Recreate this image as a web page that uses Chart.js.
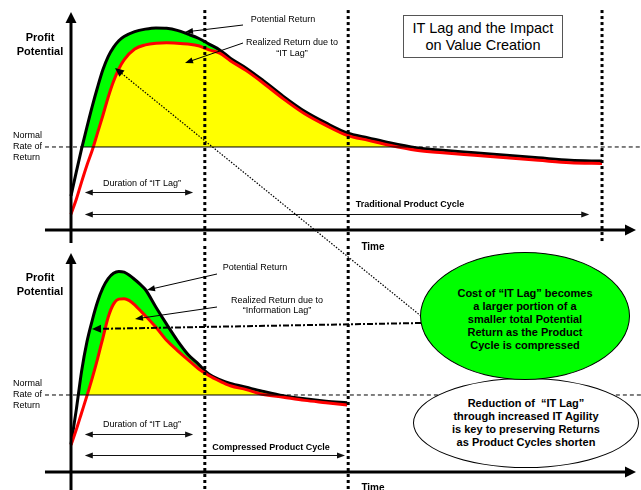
<!DOCTYPE html>
<html lang="en">
<head>
<meta charset="utf-8">
<title>IT Lag and the Impact on Value Creation</title>
<script src="https://cdn.jsdelivr.net/npm/chart.js@4.4.1/dist/chart.umd.min.js"></script>
<style>
  html, body { margin: 0; padding: 0; background: #fff; }
  #wrap { position: relative; width: 641px; height: 490px; overflow: hidden;
          font-family: "Liberation Sans", Arial, Helvetica, sans-serif; color: #000; }
  #chart { position: absolute; left: 0; top: 0; }
  .t { position: absolute; white-space: nowrap; text-align: center; transform: translate(-50%, -50%); }
  .axis-title { font-size: 11px; font-weight: bold; line-height: 14px; }
  .rate { font-size: 9px; line-height: 11px; text-align: left; transform: translate(0, -50%); }
  .note { font-size: 9px; line-height: 10.5px; }
  .span { font-size: 9px; font-weight: bold; }
  .time { font-size: 10px; font-weight: bold; }
  .box { position: absolute; left: 403px; top: 15px; width: 160px; height: 43px; box-sizing: border-box;
         border: 1px solid #555; font-size: 14.5px; line-height: 17px; background: #fff;
         display: flex; align-items: center; justify-content: center; text-align: center; }
  .ell { position: absolute; border: 1px solid #000; border-radius: 50%; box-sizing: border-box;
         display: flex; align-items: center; justify-content: center; text-align: center;
         font-size: 11px; font-weight: bold; line-height: 13px; white-space: nowrap; }
  .ell.white { left: 413px; top: 378px; width: 226px; height: 90px; background: #fff; }
  .ell.green { left: 420px; top: 252px; width: 210px; height: 128px; background: #00ff00; padding-top: 6px; }
</style>
</head>
<body>
<div id="wrap">
  <canvas id="chart" width="641" height="490"></canvas>

  <!-- upper panel: traditional product cycle -->
  <div class="t axis-title" style="left:40px;top:44px">Profit<br>Potential</div>
  <div class="t rate" style="left:13px;top:146px">Normal<br>Rate of<br>Return</div>
  <div class="t note" style="left:283px;top:19px">Potential Return</div>
  <div class="t note" style="left:292px;top:47px">Realized Return due to<br>“IT Lag”</div>
  <div class="t note" style="left:142px;top:183px">Duration of “IT Lag”</div>
  <div class="t span" style="left:410px;top:204px">Traditional Product Cycle</div>
  <div class="t time" style="left:373px;top:246px">Time</div>
  <div class="box">IT Lag and the Impact<br>on Value Creation</div>

  <!-- lower panel: compressed product cycle -->
  <div class="t axis-title" style="left:40px;top:284px">Profit<br>Potential</div>
  <div class="t rate" style="left:13px;top:394px">Normal<br>Rate of<br>Return</div>
  <div class="t note" style="left:255px;top:267px">Potential Return</div>
  <div class="t note" style="left:277px;top:304.5px">Realized Return due to<br>“Information Lag”</div>
  <div class="t note" style="left:142px;top:424px">Duration of “IT Lag”</div>
  <div class="t span" style="left:271px;top:447px">Compressed Product Cycle</div>
  <div class="t time" style="left:373px;top:487px">Time</div>

  <div class="ell white">Reduction of&nbsp; “IT Lag”<br>through increased IT Agility<br>is key to preserving Returns<br>as Product Cycles shorten</div>
  <div class="ell green">Cost of “IT Lag” becomes<br>a larger portion of a<br>smaller total Potential<br>Return as the Product<br>Cycle is compressed</div>
</div>

<script>
// Time is measured in percent of the traditional product cycle.
const timeTraditional = [0, 1, 2, 3, 4, 5, 6, 7, 8, 9, 10, 12, 14, 16, 18, 20, 22, 24, 26, 28, 30,
                         33, 36, 40, 44, 48, 52, 56, 60, 65, 70, 76, 82, 88, 94, 100];
const potentialTraditional = [4.1, 7.0, 9.8, 12.4, 14.9, 17.2, 19.3, 20.9, 22.0, 22.8, 23.3,
                              23.9, 24.2, 24.35, 24.3, 24.05, 23.6, 23.1, 22.4, 21.7, 20.7,
                              19.5, 18.1, 16.1, 14.3, 12.9, 11.7, 11.1, 10.5,
                              9.9, 9.6, 9.3, 9.0, 8.7, 8.4, 8.3];
const realizedTraditional = [1.9, 3.7, 5.8, 7.8, 9.6, 11.7, 13.8, 16.0, 17.9, 19.4, 20.5,
                             21.8, 22.3, 22.5, 22.55, 22.5, 22.4, 22.2, 21.7, 21.3, 20.4,
                             19.2, 17.8, 15.8, 14.0, 12.6, 11.4, 10.8, 10.2,
                             9.6, 9.3, 9.0, 8.7, 8.4, 8.1, 8.0];

const timeCompressed = [0, 1, 2, 3, 4, 5, 6, 7, 8, 9, 10, 11, 12, 13, 14,
                        16, 18, 20, 22, 24, 26, 28, 30, 33, 36, 40, 44, 48, 52];
const potentialCompressed = [3.6, 8.1, 13.1, 16.9, 19.7, 22.1, 23.9, 25.1, 25.8, 26.05, 25.95, 25.55, 25.0, 24.4, 23.7,
                             21.4, 19.2, 17.1, 15.3, 14.0, 12.7, 12.0, 11.5, 11.0, 10.5, 9.9, 9.5, 9.2, 9.0];
const realizedCompressed = [3.5, 5.5, 7.7, 9.9, 12.2, 14.7, 17.4, 20.1, 21.8, 22.45, 22.5, 22.25, 21.7, 21.0, 20.3,
                            18.8, 17.1, 15.8, 14.6, 13.4, 12.5, 11.8, 11.2, 10.7, 10.1, 9.7, 9.3, 9.0, 8.7];

const normalRate = 10;
// end of the IT lag, end of the compressed cycle, end of the traditional cycle
const cycleMarksTop = [25.2, 52.2, 100];
const cycleMarksBottom = [25.2, 52.2];

// ---------- helpers ----------
const pts = (xs, ys) => xs.map((x, i) => ({ x, y: ys[i] }));

function crossings(xs, ys, level) {
  let first = null, last = null;
  for (let i = 1; i < ys.length; i++) {
    const a = ys[i - 1] - level, b = ys[i] - level;
    if ((a < 0) !== (b < 0)) {
      const x = xs[i - 1] + (xs[i] - xs[i - 1]) * (a / (a - b));
      if (first === null) first = x;
      last = x;
    }
  }
  return [first, last];
}

function curve(xs, ys, axis, color, fillColor) {
  return {
    data: pts(xs, ys),
    yAxisID: axis,
    borderColor: color,
    borderWidth: 3,
    cubicInterpolationMode: 'monotone',
    pointRadius: 0,
    fill: { target: { value: normalRate }, above: fillColor, below: 'rgba(0,0,0,0)' }
  };
}

function rateLine(xs, ys, axis) {
  const [a, b] = crossings(xs, ys, normalRate);
  return {
    data: [{ x: -4.9, y: normalRate }, { x: a, y: normalRate }, { x: b, y: normalRate }, { x: 107.34, y: normalRate }],
    yAxisID: axis,
    borderColor: '#000',
    borderWidth: 1,
    borderDash: [4, 3],
    segment: { borderDash: c => (c.p0DataIndex === 1 ? [] : [4, 3]) },
    pointRadius: 0,
    fill: false
  };
}

function cycleMark(t, axis, span) {
  return {
    data: [{ x: t, y: span[1] }, { x: t, y: span[0] }],
    yAxisID: axis,
    borderColor: '#000',
    borderWidth: 3,
    borderDash: [3, 3],
    borderCapStyle: 'butt',
    pointRadius: 0,
    fill: false
  };
}

function head(ctx, x1, y1, x2, y2, len, width) {
  const a = Math.atan2(y2 - y1, x2 - x1);
  const c = Math.cos(a), s = Math.sin(a);
  ctx.beginPath();
  ctx.moveTo(x2, y2);
  ctx.lineTo(x2 - len * c + (width / 2) * s, y2 - len * s - (width / 2) * c);
  ctx.lineTo(x2 - len * c - (width / 2) * s, y2 - len * s + (width / 2) * c);
  ctx.closePath();
  ctx.fill();
}

// line from (x1,y1) to (x2,y2) with a head at the end, optionally at both ends
function arrow(ctx, x1, y1, x2, y2, o) {
  const len = o.len, w = o.width;
  const d = Math.hypot(x2 - x1, y2 - y1);
  const ux = (x2 - x1) / d, uy = (y2 - y1) / d;
  const sx = o.both ? x1 + ux * (len - 1) : x1, sy = o.both ? y1 + uy * (len - 1) : y1;
  ctx.save();
  ctx.lineWidth = o.lineWidth;
  ctx.strokeStyle = o.color || '#000';
  ctx.fillStyle = o.color || '#000';
  ctx.setLineDash(o.dash || []);
  ctx.beginPath();
  ctx.moveTo(sx, sy);
  ctx.lineTo(x2 - ux * (len - 1), y2 - uy * (len - 1));
  ctx.stroke();
  ctx.setLineDash([]);
  head(ctx, x1, y1, x2, y2, len, w);
  if (o.both) head(ctx, x2, y2, x1, y1, len, w);
  ctx.restore();
}

const panels = [
  { axis: 'yTop', yAxisSpan: [-1.57, 26.27],
    spans: [{ from: 2.6, to: 23.0, dy: 38 }, { from: 2.6, to: 97.6, dy: 16 }] },
  { axis: 'yBot', yAxisSpan: [-2.4, 28.44],
    spans: [{ from: 2.6, to: 23.0, dy: 38 }, { from: 2.6, to: 51.6, dy: 17 }] }
];
const xAxisSpan = [-4.9, 106.4];

// callout pointers from the labels to the curves
const callouts = [
  { from: [243, 25], to: [185, 32] },
  { from: [243, 43], to: [185, 63] },
  { from: [217, 274], to: [147, 290] },
  { from: [217, 307], to: [135, 319] }
];

const decorations = {
  id: 'decorations',
  afterDatasetsDraw(chart) {
    const { ctx } = chart;
    const xs = chart.scales.x;
    ctx.save();
    for (const p of panels) {
      const ys = chart.scales[p.axis];
      const y0 = ys.getPixelForValue(0);
      const x0 = xs.getPixelForValue(0);
      // axes with arrow tips
      arrow(ctx, xs.getPixelForValue(xAxisSpan[0]), y0, xs.getPixelForValue(xAxisSpan[1]), y0,
            { len: 11, width: 11, lineWidth: 3 });
      arrow(ctx, x0, ys.getPixelForValue(p.yAxisSpan[0]), x0, ys.getPixelForValue(p.yAxisSpan[1]),
            { len: 11, width: 11, lineWidth: 3 });
      // duration spans
      for (const s of p.spans) {
        const y = Math.round(y0 - s.dy) + 0.5;
        arrow(ctx, xs.getPixelForValue(s.from), y, xs.getPixelForValue(s.to), y,
              { len: 8, width: 6, lineWidth: 1, both: true, color: '#111' });
      }
    }
    for (const c of callouts) {
      arrow(ctx, c.from[0], c.from[1], c.to[0], c.to[1], { len: 8, width: 6, lineWidth: 1 });
    }
    // pointers from the ellipse to both panels
    arrow(ctx, 421, 316, 115, 68, { len: 9, width: 8, lineWidth: 1.2, dash: [1.5, 1.5] });
    arrow(ctx, 421, 323, 92, 329, { len: 9, width: 8, lineWidth: 2, dash: [6, 2, 2, 2] });
    ctx.restore();
  }
};

const datasets = [
  ...cycleMarksTop.map(t => cycleMark(t, 'yTop', [-1.57, 26.5])),
  ...cycleMarksBottom.map(t => cycleMark(t, 'yBot', [-2.4, 29.35])),
  rateLine(timeTraditional, potentialTraditional, 'yTop'),
  rateLine(timeCompressed, potentialCompressed, 'yBot'),
  curve(timeTraditional, realizedTraditional, 'yTop', '#ff0000', '#ffff00'),
  curve(timeTraditional, potentialTraditional, 'yTop', '#000000', '#00ff00'),
  curve(timeCompressed, realizedCompressed, 'yBot', '#ff0000', '#ffff00'),
  curve(timeCompressed, potentialCompressed, 'yBot', '#000000', '#00ff00')
];

new Chart(document.getElementById('chart'), {
  type: 'line',
  data: { datasets },
  options: {
    responsive: false,
    animation: false,
    events: [],
    layout: { padding: 0 },
    plugins: { legend: { display: false }, tooltip: { enabled: false }, title: { display: false } },
    scales: {
      x: { type: 'linear', min: -13.37, max: 107.34, display: false },
      yTop: { type: 'linear', min: -31.33, max: 27.71, display: false },
      yBot: { type: 'linear', min: -2.34, max: 61.3, display: false }
    }
  },
  plugins: [decorations]
});
</script>
</body>
</html>
